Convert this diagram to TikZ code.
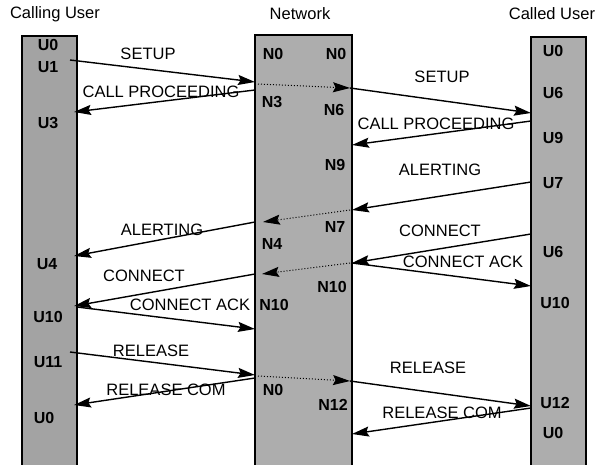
\documentclass[tikz,border=0pt]{standalone}
\usepackage{fontspec}
\setmainfont{Liberation Sans}
\usetikzlibrary{arrows.meta}
\tikzset{
  bar/.style={draw=black, line width=1.4pt, fill=black!32, anchor=north west,
              inner sep=0pt, outer sep=0pt},
  msg/.style={line width=1.4pt, -{Stealth[length=17pt,width=10pt,inset=2.5pt]}},
  relay/.style={line width=1pt, dotted, -{Stealth[length=17pt,width=10pt,inset=2.5pt]}},
  lbl/.style={font=\fontsize{16.5}{18}\selectfont, inner sep=0pt},
  st/.style={font=\fontsize{16}{18}\selectfont\bfseries, inner sep=0pt},
  ttl/.style={font=\fontsize{16.5}{18}\selectfont, inner sep=0pt},
}
\begin{document}
\begin{tikzpicture}[x=1pt, y=-1pt]
\useasboundingbox (0,0) rectangle (598,464);
\clip (0,0) rectangle (598,464);

% column titles
\node[ttl] (tcalling) at (55,14) {Calling User};
\node[ttl] (tnet)     at (300,14) {Network};
\node[ttl] (tcalled)  at (552,14) {Called User};

% the three time bars
\node[bar, fill=black!36, minimum width=55pt, minimum height=440pt] (callingbar) at (22,36) {};
\node[bar, minimum width=97pt, minimum height=440pt] (netbar)     at (255,35) {};
\node[bar, minimum width=55pt, minimum height=440pt] (calledbar)  at (531,37) {};

% states of the calling user
\node[st] (cu0)  at (48,45)  {U0};
\node[st] (cu1)  at (48,67)  {U1};
\node[st] (cu3)  at (48,123) {U3};
\node[st] (cu4)  at (47,264) {U4};
\node[st] (cu10) at (48,317) {U10};
\node[st] (cu11) at (48,362) {U11};
\node[st] (cu0b) at (44,418) {U0};

% states of the network, calling side
\node[st] (nl0)  at (273,54)  {N0};
\node[st] (nl3)  at (272,102) {N3};
\node[st] (nl4)  at (272,244) {N4};
\node[st] (nl10) at (274,305) {N10};
\node[st] (nl0b) at (273,390) {N0};

% states of the network, called side
\node[st] (nr0)  at (336,54)  {N0};
\node[st] (nr6)  at (334,110) {N6};
\node[st] (nr9)  at (335,165) {N9};
\node[st] (nr7)  at (335,227) {N7};
\node[st] (nr10) at (332,287) {N10};
\node[st] (nr12) at (333,405) {N12};

% states of the called user
\node[st] (du0)  at (553,51)  {U0};
\node[st] (du6)  at (553,93)  {U6};
\node[st] (du9)  at (553,138) {U9};
\node[st] (du7)  at (553,183) {U7};
\node[st] (du6b) at (553,252) {U6};
\node[st] (du10) at (555,303) {U10};
\node[st] (du12) at (555,403) {U12};
\node[st] (du0b) at (553,433) {U0};

% end points of the messages
\coordinate (a1s) at (70,60);   \coordinate (a1e) at (255,82);
\coordinate (r1s) at (258,84);  \coordinate (r1e) at (350,88);
\coordinate (a2e) at (531,113);
\coordinate (a3s) at (255,90);  \coordinate (a3e) at (74,112);
\coordinate (a4s) at (531,121); \coordinate (a4e) at (352,145);
\coordinate (a5s) at (531,182); \coordinate (a5e) at (352,210);
\coordinate (r2s) at (350,210); \coordinate (r2e) at (263,222);
\coordinate (a6s) at (255,222); \coordinate (a6e) at (74,256);
\coordinate (a7s) at (531,234); \coordinate (a7e) at (352,263);
\coordinate (r3s) at (350,263); \coordinate (r3e) at (262,274);
\coordinate (a8s) at (255,274); \coordinate (a8e) at (74,306);
\coordinate (a9e) at (531,286);
\coordinate (a10s) at (77,307); \coordinate (a10e) at (255,329);
\coordinate (a11s) at (70,352); \coordinate (a11e) at (255,375);
\coordinate (r4s) at (258,376); \coordinate (r4e) at (350,381);
\coordinate (a12e) at (531,406);
\coordinate (a13s) at (255,378); \coordinate (a13e) at (74,405);
\coordinate (a14s) at (531,408); \coordinate (a14e) at (352,434);

% messages
\draw[msg]   (a1s) -- (a1e);
\draw[relay] (r1s) -- (r1e);
\draw[msg]   (r1e) -- (a2e);
\draw[msg]   (a3s) -- (a3e);
\draw[msg]   (a4s) -- (a4e);
\draw[msg]   (a5s) -- (a5e);
\draw[relay] (r2s) -- (r2e);
\draw[msg]   (a6s) -- (a6e);
\draw[msg]   (a7s) -- (a7e);
\draw[relay] (r3s) -- (r3e);
\draw[msg]   (a8s) -- (a8e);
\draw[msg]   (a7e) -- (a9e);
\draw[msg]   (a10s) -- (a10e);
\draw[msg]   (a11s) -- (a11e);
\draw[relay] (r4s) -- (r4e);
\draw[msg]   (r4e) -- (a12e);
\draw[msg]   (a13s) -- (a13e);
\draw[msg]   (a14s) -- (a14e);

% message names
\node[lbl] (l1)  at (148,54)  {SETUP};
\node[lbl] (l2)  at (442,77)  {SETUP};
\node[lbl] (l3)  at (161,92)  {CALL PROCEEDING};
\node[lbl] (l4)  at (436,124) {CALL PROCEEDING};
\node[lbl] (l5)  at (440,170) {ALERTING};
\node[lbl] (l6)  at (162,230) {ALERTING};
\node[lbl] (l7)  at (440,231) {CONNECT};
\node[lbl] (l8)  at (144,276) {CONNECT};
\node[lbl] (l9)  at (463,262) {CONNECT ACK};
\node[lbl] (l10) at (190,305) {CONNECT ACK};
\node[lbl] (l11) at (151,351) {RELEASE};
\node[lbl] (l12) at (166,390) {RELEASE COM};
\node[lbl] (l13) at (428,368) {RELEASE};
\node[lbl] (l14) at (442,413) {RELEASE COM};
\end{tikzpicture}
\end{document}
